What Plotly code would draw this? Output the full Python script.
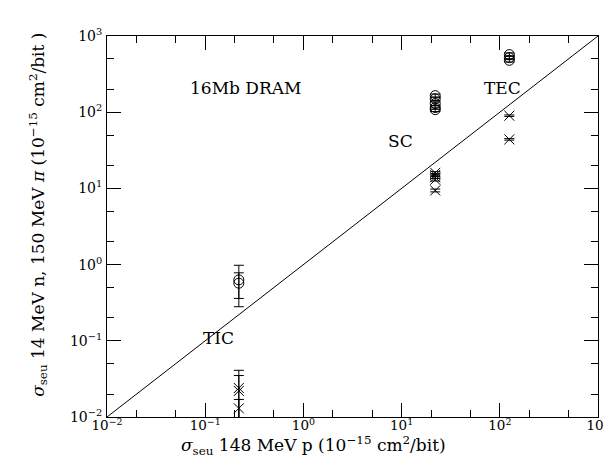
import math
import plotly.graph_objects as go

# ---- data ----
groups = ["TIC", "SC", "TEC"]
group_x = [0.22, 22, 125]          # sigma 148 MeV p
circle_vals = [[0.63, 0.57], [165, 150, 130, 115, 108], [570, 520, 480]]
circle_errs = [[0.35, 0.21], [8, 8, 7, 6, 6], [30, 30, 25]]
cross_vals = [[0.024, 0.022, 0.013], [16, 15, 14, 13, 9.4], [90, 44]]
cross_errs = [[0.017, 0.013, 0.004], [0.6, 0.6, 0.5, 0.5, 0.4], [2, 1]]
diag = [0.01, 1000]
tick_vals = [0.01, 0.1, 1, 10, 100, 1000]
tick_text = ["10<sup>−2</sup>", "10<sup>−1</sup>", "10<sup>0</sup>",
             "10<sup>1</sup>", "10<sup>2</sup>", "10<sup>3</sup>"]
labels = ["16Mb DRAM", "TIC", "SC", "TEC"]
label_x = [0.26, 0.136, 9.8, 106]
label_y = [208, 0.109, 42, 208]

FONT = "DejaVu Serif"
fig = go.Figure()

fig.add_trace(go.Scatter(x=diag, y=diag, mode="lines",
                         line=dict(color="black", width=1), showlegend=False))

for gx, cv, ce, xv, xe in zip(group_x, circle_vals, circle_errs, cross_vals, cross_errs):
    fig.add_trace(go.Scatter(
        x=[gx] * len(cv), y=cv, mode="markers",
        marker=dict(symbol="circle-open", size=10, color="black", line=dict(width=1)),
        error_y=dict(type="data", array=ce, color="black", thickness=1, width=5),
        showlegend=False))
    fig.add_trace(go.Scatter(
        x=[gx] * len(xv), y=xv, mode="markers",
        marker=dict(symbol="x-thin-open", size=10, color="black",
                    line=dict(width=1, color="black")),
        error_y=dict(type="data", array=xe, color="black", thickness=1, width=5),
        showlegend=False))

# invisible trace so the mirrored (top/right) axes are drawn
fig.add_trace(go.Scatter(x=diag, y=diag, xaxis="x2", yaxis="y2", mode="lines",
                         line=dict(width=0), opacity=0, hoverinfo="skip",
                         showlegend=False))

for t, lx, ly in zip(labels, label_x, label_y):
    fig.add_annotation(x=math.log10(lx), y=math.log10(ly), xref="x", yref="y",
                       text=t, showarrow=False,
                       font=dict(family=FONT, size=17, color="black"),
                       xanchor="center", yanchor="middle")

minor = dict(ticks="inside", ticklen=7, tickwidth=1, tickcolor="black", showgrid=False)
axis_common = dict(
    type="log", range=[-2, 3], tickvals=tick_vals, ticktext=tick_text,
    ticks="inside", ticklen=14, tickwidth=1, tickcolor="black",
    showline=True, linecolor="black", linewidth=1, mirror=False,
    showgrid=False, zeroline=False, minor=minor,
)
fig.update_layout(
    xaxis=dict(**axis_common, ticklabeloverflow="allow", ticklabelstandoff=-4,
               tickfont=dict(family=FONT, size=13.5, color="black")),
    yaxis=dict(**axis_common, ticklabelstandoff=1,
               tickfont=dict(family=FONT, size=14, color="black")),
    xaxis2=dict(**axis_common, overlaying="x", side="top", anchor="y",
                showticklabels=False),
    yaxis2=dict(**axis_common, overlaying="y", side="right", anchor="x",
                showticklabels=False),
)

fig.add_annotation(xref="paper", yref="paper", x=0.4215, y=-0.113,
                   text="<i>σ</i><sub>seu</sub> 148 MeV p (10<sup>−15</sup> cm<sup>2</sup>/bit)",
                   showarrow=False, font=dict(family=FONT, size=17, color="black"),
                   xanchor="center", yanchor="bottom")
fig.add_annotation(xref="paper", yref="paper", x=-0.141, y=0.53,
                   text="<i>σ</i><sub>seu</sub> 14 MeV n, 150 MeV <i>π</i> (10<sup>−15</sup> cm<sup>2</sup>/bit )",
                   showarrow=False, textangle=-90,
                   font=dict(family=FONT, size=17, color="black"),
                   xanchor="center", yanchor="middle")

fig.update_layout(
    width=611, height=457,
    margin=dict(l=99, r=9, t=28, b=48),
    paper_bgcolor="white", plot_bgcolor="white",
    showlegend=False,
)
fig.write_html("out.html")
